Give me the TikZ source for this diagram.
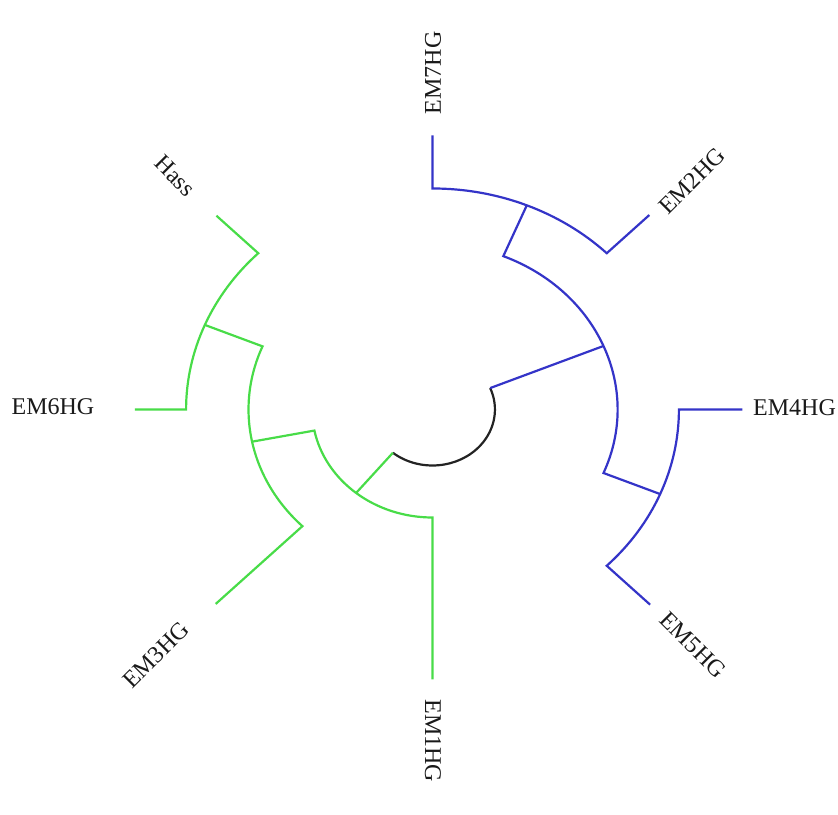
\documentclass[tikz,border=0pt]{standalone}
\usepackage{fontspec}
\setmainfont{Liberation Serif}
\definecolor{treeblue}{RGB}{52,52,200}
\definecolor{treegreen}{RGB}{72,220,72}
\definecolor{rootgray}{RGB}{35,35,35}
\definecolor{labgray}{RGB}{25,25,25}
\begin{document}
\begin{tikzpicture}[x=1pt,y=1pt,
  br/.style={line width=2.2pt, line join=miter, line cap=butt},
  blu/.style={br, draw=treeblue},
  grn/.style={br, draw=treegreen},
  rootc/.style={br, draw=rootgray},
  lab/.style={font=\fontsize{24}{24}\selectfont, inner sep=0pt, text=labgray}]
\useasboundingbox (0,0) rectangle (838,814);
\begin{scope}[shift={(432.5,404.5)}, x=1.115pt, y=1pt]
  % root
  \coordinate (R1) at (230.625:56);
  \coordinate (R2) at (22.5:56);
  % blue clade
  \coordinate (B)   at (22.5:166);
  \coordinate (Blo) at (-22.5:166);
  \coordinate (B1)  at (67.5:221);
  \coordinate (B2)  at (-22.5:221);
  \coordinate (B1a) at (45:221);
  \coordinate (B2a) at (-45:221);
  \coordinate (t7) at (90:274);
  \coordinate (t2) at (45:275);
  \coordinate (t4) at (0:278);
  \coordinate (t5) at (-45:276);
  % green clade
  \coordinate (G)   at (230.625:108);
  \coordinate (Ga)  at (191.25:108);
  \coordinate (G1)  at (191.25:165);
  \coordinate (G1b) at (157.5:165);
  \coordinate (G2)  at (157.5:221);
  \coordinate (G2a) at (135:221);
  \coordinate (t1) at (270:270);
  \coordinate (t3) at (225:275);
  \coordinate (t6) at (180:267);
  \coordinate (th) at (135:274);

  \draw[rootc] (R1) arc[start angle=230.625, end angle=382.5, radius=56];

  \draw[blu] (R2) -- (B);
  \draw[blu] (B2) -- (Blo) arc[start angle=-22.5, end angle=67.5, radius=166] -- (B1);
  \draw[blu] (t2) -- (B1a) arc[start angle=45, end angle=90, radius=221] -- (t7);
  \draw[blu] (t5) -- (B2a) arc[start angle=-45, end angle=0, radius=221] -- (t4);

  \draw[grn] (R1) -- (G);
  \draw[grn] (G1) -- (Ga) arc[start angle=191.25, end angle=270, radius=108] -- (t1);
  \draw[grn] (G2) -- (G1b) arc[start angle=157.5, end angle=225, radius=165] -- (t3);
  \draw[grn] (th) -- (G2a) arc[start angle=135, end angle=180, radius=221] -- (t6);
\end{scope}
\node[lab, rotate=90]  (l7) at (433,741) {EM7HG};
\node[lab, rotate=45]  (l2) at (692,633) {EM2HG};
\node[lab]             (l4) at (794.5,406) {EM4HG};
\node[lab, rotate=-45] (l5) at (693,169) {EM5HG};
\node[lab, rotate=-90] (l1) at (433,73) {EM1HG};
\node[lab, rotate=45]  (l3) at (156,159) {EM3HG};
\node[lab]             (l6) at (53,407) {EM6HG};
\node[lab, rotate=-45] (lh) at (175,638) {Hass};
\end{tikzpicture}
\end{document}
